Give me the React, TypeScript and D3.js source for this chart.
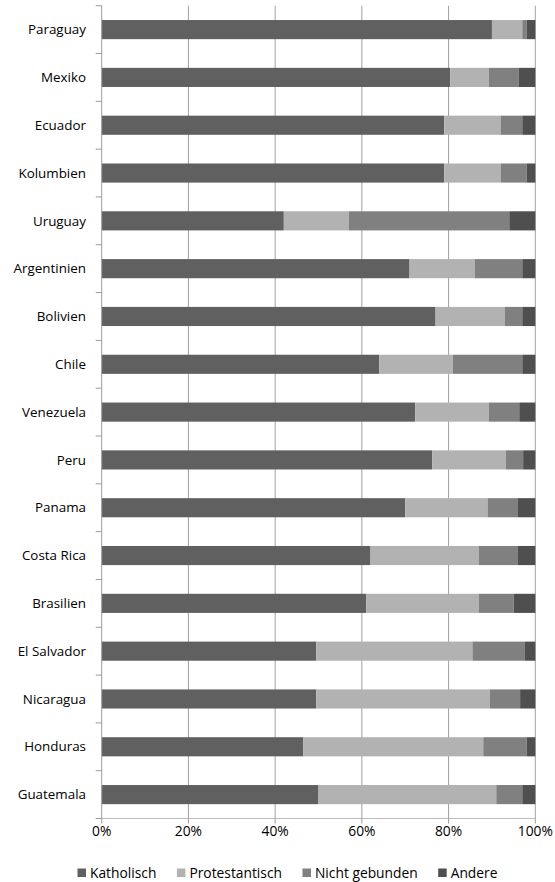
import { useEffect, useRef } from "react";
import * as d3 from "d3";

const countries = [
  "Paraguay", "Mexiko", "Ecuador", "Kolumbien", "Uruguay", "Argentinien",
  "Bolivien", "Chile", "Venezuela", "Peru", "Panama", "Costa Rica",
  "Brasilien", "El Salvador", "Nicaragua", "Honduras", "Guatemala",
];
const katholisch = [90, 80.4, 79, 79, 42, 71, 77, 64, 72.3, 76.2, 70, 62, 61, 49.5, 49.5, 46.5, 50];
const protestantisch = [7, 8.9, 13, 13, 15, 15, 16, 17, 17, 17, 19, 25, 26, 36, 40, 41.5, 41];
const nichtGebunden = [1, 6.9, 5, 6, 37, 11, 4, 16, 7, 4, 7, 9, 8, 12, 7, 10, 6];
const andere = [2, 3.8, 3, 2, 6, 3, 3, 3, 3.7, 2.8, 4, 4, 5, 2.5, 3.5, 2, 3];
const seriesNames = ["Katholisch", "Protestantisch", "Nicht gebunden", "Andere"];
const seriesColors = ["#606060", "#b2b2b2", "#808080", "#4f4f4f"];
const ticks = [0, 20, 40, 60, 80, 100];

const W = 555;
const H = 882;
const FONT = "'Open Sans', sans-serif";

export default function App() {
  const svgRef = useRef<SVGSVGElement>(null);

  useEffect(() => {
    const svg = d3.select(svgRef.current);
    svg.selectAll("*").remove();

    const rows = countries.map((c, i) => ({
      country: c,
      Katholisch: katholisch[i],
      Protestantisch: protestantisch[i],
      "Nicht gebunden": nichtGebunden[i],
      Andere: andere[i],
    }));
    // 100% stacked
    const stacked = d3
      .stack<any>()
      .keys(seriesNames)
      .offset(d3.stackOffsetExpand)(rows);

    const x = d3.scaleLinear().domain([0, 1]).range([101.7, 535.3]);
    const y = d3
      .scaleBand()
      .domain(countries)
      .range([5.7, 818.5])
      .paddingInner(0.6)
      .paddingOuter(0.3);
    const yBottom = 818.5;

    // gridlines
    svg
      .append("g")
      .selectAll("line")
      .data(ticks.slice(1))
      .join("line")
      .attr("x1", (d) => x(d / 100))
      .attr("x2", (d) => x(d / 100))
      .attr("y1", 5.7)
      .attr("y2", yBottom)
      .attr("stroke", "#a0a0a0")
      .attr("stroke-width", 1);

    // bars
    svg
      .append("g")
      .selectAll("g")
      .data(stacked)
      .join("g")
      .attr("fill", (_, i) => seriesColors[i])
      .selectAll("rect")
      .data((s) => s)
      .join("rect")
      .attr("x", (d) => x(d[0]))
      .attr("width", (d) => x(d[1]) - x(d[0]))
      .attr("y", (d) => y(d.data.country)!)
      .attr("height", y.bandwidth());

    // y axis line + ticks
    const axisColor = "#9a9a9a";
    svg
      .append("line")
      .attr("x1", x(0))
      .attr("x2", x(0))
      .attr("y1", 5.7)
      .attr("y2", yBottom)
      .attr("stroke", axisColor);
    const step = y.step();
    svg
      .append("g")
      .selectAll("line")
      .data(d3.range(countries.length + 1))
      .join("line")
      .attr("x1", x(0) - 6)
      .attr("x2", x(0))
      .attr("y1", (i) => 5.7 + i * step)
      .attr("y2", (i) => 5.7 + i * step)
      .attr("stroke", axisColor);

    // x axis line + ticks
    svg
      .append("line")
      .attr("x1", x(0))
      .attr("x2", x(1))
      .attr("y1", yBottom)
      .attr("y2", yBottom)
      .attr("stroke", "#bcbcbc");
    svg
      .append("g")
      .selectAll("line")
      .data(ticks)
      .join("line")
      .attr("x1", (d) => x(d / 100))
      .attr("x2", (d) => x(d / 100))
      .attr("y1", yBottom)
      .attr("y2", yBottom + 5)
      .attr("stroke", axisColor);

    // category labels
    svg
      .append("g")
      .attr("font-family", FONT)
      .attr("font-size", 13.4)
      .attr("fill", "#000")
      .attr("text-anchor", "end")
      .selectAll("text")
      .data(countries)
      .join("text")
      .attr("x", 86)
      .attr("y", (d) => y(d)! + y.bandwidth() / 2)
      .attr("dy", "0.35em")
      .text((d) => d);

    // tick labels
    svg
      .append("g")
      .attr("font-family", FONT)
      .attr("font-size", 13.8)
      .attr("fill", "#000")
      .attr("text-anchor", "middle")
      .selectAll("text")
      .data(ticks)
      .join("text")
      .attr("x", (d) => x(d / 100))
      .attr("y", 835.5)
      .text((d) => `${d}%`);

    // legend
    const legend = svg
      .append("g")
      .attr("font-family", FONT)
      .attr("font-size", 13.8)
      .attr("fill", "#000");
    let cx = 77.5;
    seriesNames.forEach((name, i) => {
      legend
        .append("rect")
        .attr("x", cx)
        .attr("y", 868.5)
        .attr("width", 8.5)
        .attr("height", 8.5)
        .attr("fill", seriesColors[i]);
      const t = legend
        .append("text")
        .attr("x", cx + 12.5)
        .attr("y", 877.5)
        .text(name);
      const len = (t.node() as SVGTextElement).getComputedTextLength();
      cx = cx + 12.5 + len + 20.5;
    });
  }, []);

  return (
    <svg
      ref={svgRef}
      width={W}
      height={H}
      style={{ position: "absolute", left: 0, top: 0, background: "#fff" }}
    />
  );
}
